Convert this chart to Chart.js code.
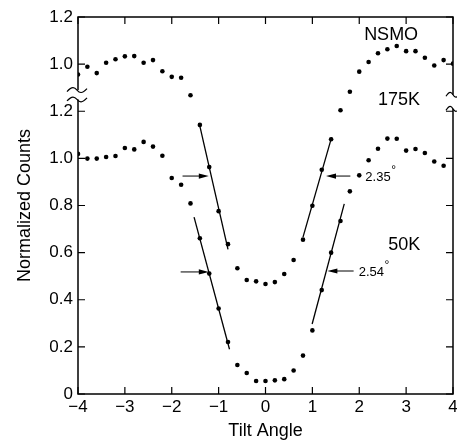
<!DOCTYPE html>
<html>
<head>
<meta charset="utf-8">
<script src="https://cdn.jsdelivr.net/npm/chart.js@4"></script>
<style>
  body { margin: 0; background: #fff; }
  #wrap { width: 457px; height: 442px; }
</style>
</head>
<body>
<div id="wrap"><canvas id="chart" width="457" height="442"></canvas></div>
<script>
// tilt angle (deg), one scan point every 0.2
var tiltAngle = [-4.0, -3.8, -3.6, -3.4, -3.2, -3.0, -2.8, -2.6, -2.4, -2.2,
                 -2.0, -1.8, -1.6, -1.4, -1.2, -1.0, -0.8, -0.6, -0.4, -0.2,
                  0.0,  0.2,  0.4,  0.6,  0.8,  1.0,  1.2,  1.4,  1.6,  1.8,
                  2.0,  2.2,  2.4,  2.6,  2.8,  3.0,  3.2,  3.4,  3.6,  3.8, 4.0];

// normalized counts, 175K scan (drawn shifted up by OFFSET_175K, broken axis)
var counts175K = [0.956, 0.989, 0.962, 1.006, 1.021, 1.033, 1.034, 1.006, 1.017, 0.970,
                  0.946, 0.942, 0.868, 0.742, 0.563, 0.376, 0.236, 0.134, 0.084, 0.078,
                  0.067, 0.075, 0.109, 0.169, 0.255, 0.399, 0.552, 0.681, 0.804, 0.883,
                  0.968, 1.009, 1.046, 1.063, 1.077, 1.055, 1.055, 1.027, 0.994, 1.017, 1.002];

// normalized counts, 50K scan
var counts50K = [1.019, 0.999, 0.999, 1.006, 1.010, 1.044, 1.038, 1.070, 1.050, 1.011,
                 0.917, 0.888, 0.809, 0.661, 0.511, 0.363, 0.221, 0.123, 0.089, 0.055,
                 0.055, 0.058, 0.063, 0.100, 0.163, 0.270, 0.441, 0.600, 0.734, 0.860,
                 0.928, 0.992, 1.041, 1.084, 1.083, 1.033, 1.040, 1.023, 0.987, 0.969, null];

var OFFSET_175K = 0.4;

// straight fits through the edges (end points, real counts)
var fit175KLeft  = [[-1.41, 0.745], [-0.80, 0.214]];
var fit175KRight = [[0.80, 0.266], [1.41, 0.689]];
var fit50KLeft   = [[-1.524, 0.751], [-0.768, 0.190]];
var fit50KRight  = [[0.995, 0.297], [1.68, 0.807]];

// half-width arrows: tail angle, head angle, level on plotted scale
var arrowFrom  = [-1.77, 1.81, -1.81, 1.88];
var arrowTo    = [-1.21, 1.29, -1.21, 1.32];
var arrowLevel = [0.925, 0.925, 0.518, 0.522];

var widthText  = ["2.35", "2.54"];
var widthX     = [2.13, 1.99];
var widthLevel = [0.925, 0.522];

var noteText = ["NSMO", "175K", "50K"];
var noteX    = [2.68, 2.85, 2.96];
var noteY    = [1.522, 1.246, 0.633];

var xTickValues = [-4, -3, -2, -1, 0, 1, 2, 3, 4];
var xTickLabels = ["\u22124", "\u22123", "\u22122", "\u22121", "0", "1", "2", "3", "4"];
var yTickValues = [0, 0.2, 0.4, 0.6, 0.8, 1.0, 1.2, 1.4, 1.6];
var yTickLabels = ["0", "0.2", "0.4", "0.6", "0.8", "1.0", "1.2", "1.0", "1.2"];

// axis break marks (plotted scale)
var breakLeft  = [1.29, 1.25];
var breakRight = [1.27, 1.21];

var FONT = "'Liberation Sans', Arial, Helvetica, sans-serif";

function toPoints(xs, ys, shift){
  var out = [];
  for (var i = 0; i < xs.length; i++) {
    if (ys[i] == null) continue;
    out.push({ x: xs[i], y: ys[i] + shift });
  }
  return out;
}

function lineSet(seg, shift){
  return {
    data: seg.map(function(p){ return { x: p[0], y: p[1] + shift }; }),
    showLine: true,
    borderColor: "#000",
    borderWidth: 1.3,
    pointRadius: 0,
    fill: false
  };
}

function dotSet(data){
  return {
    data: data,
    showLine: false,
    pointRadius: 2.3,
    pointBorderWidth: 0,
    pointBackgroundColor: "#000",
    borderColor: "#000"
  };
}

function drawArrow(ctx, x1, y, x2){
  var d = x2 > x1 ? 1 : -1;
  ctx.beginPath();
  ctx.moveTo(x1, y);
  ctx.lineTo(x2 - d * 6, y);
  ctx.stroke();
  ctx.beginPath();
  ctx.moveTo(x2, y);
  ctx.lineTo(x2 - d * 10, y - 2.6);
  ctx.lineTo(x2 - d * 10, y + 2.6);
  ctx.closePath();
  ctx.fill();
}

function drawTilde(ctx, x, y, half){
  ctx.beginPath();
  ctx.moveTo(x - half, y + 1.5);
  ctx.bezierCurveTo(x - half / 2, y - 4, x - half / 4, y - 3, x, y);
  ctx.bezierCurveTo(x + half / 4, y + 3, x + half / 2, y + 4, x + half, y - 1.5);
  ctx.stroke();
}

var decorPlugin = {
  id: "decor",
  afterDatasetsDraw: function(chart){
    var ctx = chart.ctx, a = chart.chartArea;
    var xs = chart.scales.x, ys = chart.scales.y;
    ctx.save();
    ctx.strokeStyle = "#000";
    ctx.fillStyle = "#000";

    // frame
    ctx.lineWidth = 1.5;
    ctx.strokeRect(a.left, a.top, a.right - a.left, a.bottom - a.top);

    // inward ticks on all four sides
    ctx.lineWidth = 1.2;
    ctx.beginPath();
    xTickValues.forEach(function(v){
      var px = xs.getPixelForValue(v);
      ctx.moveTo(px, a.bottom); ctx.lineTo(px, a.bottom - 7);
      ctx.moveTo(px, a.top);    ctx.lineTo(px, a.top + 7);
    });
    yTickValues.forEach(function(v){
      var py = ys.getPixelForValue(v);
      ctx.moveTo(a.left, py);  ctx.lineTo(a.left + 7, py);
      ctx.moveTo(a.right, py); ctx.lineTo(a.right - 7, py);
    });
    ctx.stroke();

    // axis breaks
    var l1 = ys.getPixelForValue(breakLeft[0]), l2 = ys.getPixelForValue(breakLeft[1]);
    var r1 = ys.getPixelForValue(breakRight[0]), r2 = ys.getPixelForValue(breakRight[1]);
    ctx.fillStyle = "#fff";
    ctx.fillRect(a.left - 2, l1, 4, l2 - l1);
    ctx.fillRect(a.right - 2, r1, 4, r2 - r1);
    ctx.fillStyle = "#000";
    ctx.lineWidth = 1.2;
    drawTilde(ctx, a.left - 1, l1, 10);
    drawTilde(ctx, a.left - 1, l2, 10);
    drawTilde(ctx, a.right, r1, 7);
    drawTilde(ctx, a.right, r2, 7);

    // half-width arrows
    ctx.lineWidth = 1;
    for (var i = 0; i < arrowFrom.length; i++) {
      drawArrow(ctx, xs.getPixelForValue(arrowFrom[i]), ys.getPixelForValue(arrowLevel[i]),
                xs.getPixelForValue(arrowTo[i]));
    }

    // width values with degree sign
    ctx.textBaseline = "middle";
    ctx.textAlign = "left";
    for (var j = 0; j < widthText.length; j++) {
      var tx = xs.getPixelForValue(widthX[j]), ty = ys.getPixelForValue(widthLevel[j]);
      ctx.font = "13px " + FONT;
      ctx.fillText(widthText[j], tx, ty + 1);
      var w = ctx.measureText(widthText[j]).width;
      ctx.font = "12px " + FONT;
      ctx.fillText("\u00B0", tx + w + 0.5, ty - 5);
    }

    // sample / temperature notes
    ctx.textAlign = "center";
    ctx.font = "18px " + FONT;
    for (var k = 0; k < noteText.length; k++) {
      ctx.fillText(noteText[k], xs.getPixelForValue(noteX[k]), ys.getPixelForValue(noteY[k]));
    }
    ctx.restore();
  }
};

new Chart(document.getElementById("chart"), {
  type: "scatter",
  data: {
    datasets: [
      dotSet(toPoints(tiltAngle, counts175K, OFFSET_175K)),
      dotSet(toPoints(tiltAngle, counts50K, 0)),
      lineSet(fit175KLeft, OFFSET_175K),
      lineSet(fit175KRight, OFFSET_175K),
      lineSet(fit50KLeft, 0),
      lineSet(fit50KRight, 0)
    ]
  },
  options: {
    responsive: false,
    animation: false,
    devicePixelRatio: 1,
    layout: { padding: { top: 17, right: 1, left: 0, bottom: 0 } },
    plugins: { legend: { display: false }, tooltip: { enabled: false } },
    scales: {
      x: {
        type: "linear",
        min: -4, max: 4,
        afterBuildTicks: function(s){ s.ticks = xTickValues.map(function(v){ return { value: v }; }); },
        afterFit: function(s){ s.height = 48; s.paddingLeft = 0; s.paddingRight = 0; },
        grid: { display: false, drawTicks: false },
        border: { display: false },
        ticks: {
          padding: 3,
          maxRotation: 0,
          autoSkip: false,
          color: "#000",
          font: { family: FONT, size: 17 },
          callback: function(v, i){ return xTickLabels[i]; }
        },
        title: {
          display: true, text: "Tilt Angle", color: "#000",
          font: { family: FONT, size: 18 },
          padding: { top: 0, bottom: 0 }
        }
      },
      y: {
        type: "linear",
        min: 0, max: 1.6,
        afterBuildTicks: function(s){ s.ticks = yTickValues.map(function(v){ return { value: v }; }); },
        afterFit: function(s){ s.width = 78; s.paddingTop = 0; s.paddingBottom = 0; },
        grid: { display: false, drawTicks: false },
        border: { display: false },
        ticks: {
          padding: 5,
          autoSkip: false,
          color: "#000",
          font: { family: FONT, size: 17 },
          callback: function(v, i){ return yTickLabels[i]; }
        },
        title: {
          display: true, text: "Normalized Counts", color: "#000",
          font: { family: FONT, size: 18 },
          padding: { top: 14, bottom: 0 }
        }
      }
    }
  },
  plugins: [decorPlugin]
});
</script>
</body>
</html>
